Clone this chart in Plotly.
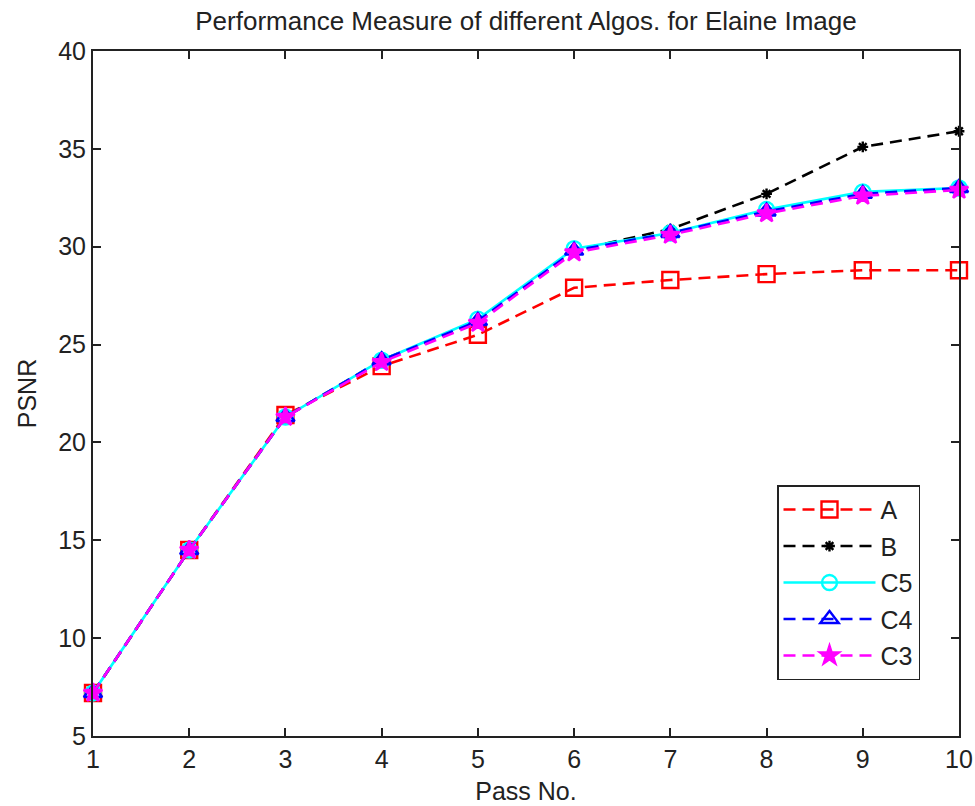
import plotly.graph_objects as go

passes = [1, 2, 3, 4, 5, 6, 7, 8, 9, 10]
psnr_a = [7.2, 14.5, 21.4, 23.9, 25.5, 27.9, 28.3, 28.6, 28.8, 28.8]
psnr_b = [7.2, 14.5, 21.3, 24.2, 26.2, 29.8, 30.9, 32.7, 35.1, 35.9]
psnr_c5 = [7.2, 14.5, 21.3, 24.2, 26.3, 29.9, 30.7, 31.9, 32.8, 33.0]
psnr_c4 = [7.2, 14.5, 21.3, 24.2, 26.2, 29.8, 30.7, 31.8, 32.7, 33.0]
psnr_c3 = [7.2, 14.5, 21.3, 24.1, 26.1, 29.7, 30.6, 31.7, 32.6, 32.9]

series = [
    ("A", psnr_a, "red", "12px,7px", "square-open", 16),
    ("B", psnr_b, "black", "12px,7px", "asterisk-open", 9),
    ("C5", psnr_c5, "cyan", "solid", "circle-open", 15),
    ("C4", psnr_c4, "blue", "12px,7px", "triangle-up-open", 16),
    ("C3", psnr_c3, "magenta", "12px,7px", "star", 14),
]

fig = go.Figure()
for i, (name, vals, color, dash, sym, size) in enumerate(series):
    fig.add_trace(go.Scatter(
        x=passes, y=vals, name=name, mode="lines+markers",
        line=dict(color=color, dash=dash, width=2.6),
        marker=dict(symbol=sym, size=size, color=color,
                    line=dict(color=color, width=2.4)),
        legendgroup=f"g{i}",
        cliponaxis=False,
    ))

font_family = "Liberation Sans, Arial, sans-serif"
fs = 25
fig.update_layout(
    width=975, height=806,
    margin=dict(l=93, r=16, t=51, b=70, autoexpand=False),
    paper_bgcolor="white", plot_bgcolor="white",
    font=dict(family=font_family, size=fs, color="#222"),
    title=dict(text="Performance Measure of different Algos. for Elaine Image",
               x=0.5, xref="paper", xanchor="center", y=1 - 21 / 806,
               yanchor="middle",
               font=dict(size=26, family=font_family, color="#222")),
    legend=dict(x=(777 - 93) / 866, y=0.366, xanchor="left", yanchor="top",
                bordercolor="#222", borderwidth=1.5, bgcolor="white",
                itemwidth=92, tracegroupgap=1,
                font=dict(size=fs, family=font_family, color="#222")),
    showlegend=True,
)
fig.update_xaxes(
    range=[1, 10], tickvals=passes, ticks="inside", ticklen=8, tickwidth=1.5,
    tickcolor="#222", showline=True, linecolor="#222", linewidth=2,
    mirror="ticks", showgrid=False, zeroline=False, automargin=False,
    title=dict(text="Pass No.", standoff=10, font=dict(size=fs)),
)
fig.update_yaxes(
    range=[5, 40], tickvals=[5, 10, 15, 20, 25, 30, 35, 40], ticks="inside",
    ticklen=8, tickwidth=1.5, tickcolor="#222", showline=True, linecolor="#222",
    linewidth=2, mirror="ticks", showgrid=False, zeroline=False,
    automargin=False, ticklabelstandoff=0,
    title=dict(text="PSNR", standoff=14, font=dict(size=fs)),
)

fig.write_html("out.html")
